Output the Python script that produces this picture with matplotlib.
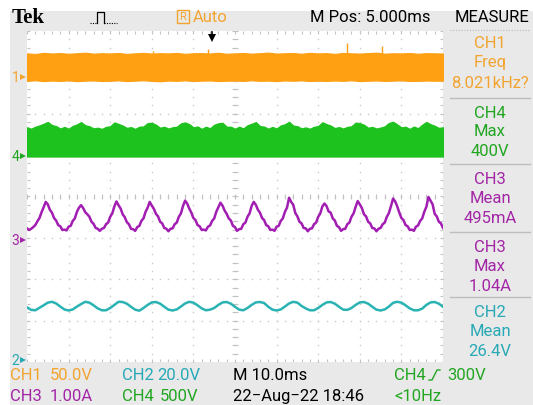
import numpy as np
import matplotlib
matplotlib.use("Agg")
import matplotlib.pyplot as plt
from matplotlib import font_manager as fm
from matplotlib.collections import LineCollection
from matplotlib.patches import Rectangle

# ---------------- acquisition data (time in ms, 0..100 across the screen) ----------------
# CH1: switching node, drawn as its envelope (50 V/div), 2 ms steps
ch1_high = [28.0, 27.2, 28.6, 27.8, 28.3, 27.5, 28.1, 28.8, 27.6, 28.2,
            27.9, 28.4, 27.3, 28.0, 28.6, 27.7, 28.2, 27.9, 28.5, 27.4,
            28.1, 28.3, 27.8, 28.7, 27.5, 28.0, 28.4, 27.6, 28.2, 28.9,
            27.7, 28.1, 28.3, 27.5, 28.6, 27.9, 28.2, 27.4, 28.5, 28.0,
            27.7, 28.3, 28.8, 27.6, 28.1, 27.9, 28.4, 27.5, 28.2, 28.0,
            27.8]
ch1_low = [-5.2, -4.6, -5.5, -4.9, -5.3, -4.7, -5.6, -5.0, -4.8, -5.4,
           -5.1, -4.7, -5.5, -5.0, -4.6, -5.3, -5.8, -4.9, -5.2, -4.7,
           -5.4, -5.0, -4.8, -5.5, -5.1, -4.9, -5.3, -4.6, -5.2, -5.0,
           -5.5, -4.8, -5.1, -4.7, -5.4, -5.0, -5.3, -4.9, -5.2, -4.6,
           -5.5, -5.1, -4.8, -5.3, -5.0, -4.7, -5.4, -5.2, -4.9, -5.1,
           -5.0]
ch1_spike_t = [30.3, 43.6, 76.9, 85.3]
ch1_spike_v = [31.0, 33.0, 41.0, 37.0]

# CH4: bus voltage envelope (500 V/div), 1 ms steps
ch4_top = [346, 328, 352, 368, 388, 410, 372, 360, 330, 350,
           328, 362, 380, 408, 370, 358, 332, 340, 326, 350,
           358, 404, 386, 366, 338, 348, 326, 352, 356, 396,
           400, 376, 340, 352, 330, 346, 352, 392, 404, 384,
           344, 356, 326, 352, 334, 376, 394, 400, 352, 352,
           328, 352, 332, 370, 388, 408, 360, 354, 328, 350,
           330, 368, 382, 412, 366, 358, 332, 344, 328, 352,
           360, 406, 384, 366, 336, 348, 330, 350, 358, 402,
           396, 376, 340, 350, 330, 342, 356, 398, 412, 380,
           344, 352, 326, 354, 334, 376, 410, 382, 364, 338,
           346]
ch4_floor = -6.0

# CH3: input current (1.00 A/div), 0.5 ms steps
ch3_amps = [0.28, 0.24, 0.27, 0.31, 0.36, 0.45, 0.53, 0.67, 0.79,
            0.92, 0.86, 0.73, 0.66, 0.53, 0.47, 0.36, 0.33, 0.24, 0.25, 0.23, 0.32, 0.34, 0.46, 0.52, 0.68, 0.78,
            0.84, 0.77, 0.67, 0.62, 0.56, 0.44, 0.39, 0.29, 0.27, 0.22, 0.27, 0.29, 0.38, 0.42, 0.56, 0.64, 0.81,
            0.93, 0.84, 0.76, 0.62, 0.55, 0.43, 0.38, 0.27, 0.26, 0.22, 0.31, 0.34, 0.46, 0.52, 0.68, 0.78,
            0.92, 0.83, 0.75, 0.63, 0.57, 0.44, 0.40, 0.29, 0.27, 0.21, 0.27, 0.28, 0.38, 0.42, 0.56, 0.64, 0.82,
            0.95, 0.88, 0.76, 0.66, 0.53, 0.48, 0.36, 0.33, 0.24, 0.25, 0.23, 0.32, 0.35, 0.46, 0.52, 0.68, 0.79,
            0.90, 0.83, 0.71, 0.63, 0.52, 0.47, 0.34, 0.31, 0.22, 0.26, 0.27, 0.38, 0.42, 0.56, 0.64, 0.82,
            0.92, 0.85, 0.73, 0.66, 0.53, 0.48, 0.36, 0.33, 0.24, 0.25, 0.22, 0.32, 0.34, 0.46, 0.52, 0.68, 0.78,
            1.02, 0.92, 0.85, 0.65, 0.57, 0.44, 0.40, 0.29, 0.28, 0.21, 0.27, 0.28, 0.38, 0.42, 0.56, 0.64, 0.81,
            0.88, 0.82, 0.69, 0.66, 0.52, 0.47, 0.34, 0.31, 0.22, 0.26, 0.27, 0.38, 0.42, 0.56, 0.64, 0.80,
            0.94, 0.86, 0.77, 0.62, 0.57, 0.44, 0.40, 0.29, 0.28, 0.21, 0.27, 0.29, 0.38, 0.42, 0.56, 0.65, 0.82,
            1.00, 0.93, 0.81, 0.66, 0.53, 0.48, 0.36, 0.33, 0.24, 0.25, 0.22, 0.32, 0.35, 0.46, 0.52, 0.68, 0.80,
            1.04, 0.95, 0.86, 0.63, 0.57, 0.44, 0.40, 0.29]

# CH2: output voltage (20.0 V/div), 1 ms steps
ch2_volts = [25.6, 24.4, 24.2, 25.4, 26.6, 27.9, 28.3, 27.5, 26.0, 24.6,
             24.1, 24.6, 26.0, 27.2, 28.3, 27.9, 26.6, 25.1, 24.2, 24.2,
             25.3, 26.8, 28.3, 28.2, 27.4, 25.9, 24.5, 24.0, 25.3, 26.8,
             28.0, 28.2, 27.4, 25.9, 24.5, 24.1, 24.6, 26.0, 27.5, 28.3,
             27.9, 26.6, 25.1, 24.2, 24.5, 25.3, 26.8, 28.0, 28.2, 27.4,
             25.9, 24.5, 24.2, 25.3, 26.8, 28.0, 28.2, 27.7, 25.9, 24.5,
             24.1, 24.6, 26.0, 27.5, 28.3, 27.9, 26.3, 25.1, 24.2, 24.2,
             25.3, 26.8, 28.0, 28.2, 27.4, 25.9, 24.5, 24.4, 25.3, 26.8,
             28.0, 28.2, 27.4, 25.9, 24.5, 24.1, 24.6, 26.0, 27.8, 28.3,
             27.9, 26.6, 25.1, 24.2, 24.2, 25.0, 26.8, 28.0, 28.2, 27.4,
             25.9]

# channel settings: volts (or amps) per division and ground level in divisions
ch_scale = {"CH1": 50.0, "CH2": 20.0, "CH3": 1.0, "CH4": 500.0}
ch_ground = {"CH1": 2.90, "CH2": -3.96, "CH3": -1.05, "CH4": 0.98}

# readouts
measure_items = [("CH1", "Freq", "8.021kHz?"), ("CH4", "Max", "400V"),
                 ("CH3", "Mean", "495mA"), ("CH3", "Max", "1.04A"),
                 ("CH2", "Mean", "26.4V")]

# ---------------- styling ----------------
W, H = 533, 406
BG = "#e9e9e9"
C_TR = {"CH1": "#ff9f12", "CH2": "#2bb3b3", "CH3": "#a21db2", "CH4": "#1ec21e"}
C_TX = {"CH1": "#f2a431", "CH2": "#27a9b6", "CH3": "#a226a6", "CH4": "#22a622"}


def pick_font(names):
    for n in names:
        try:
            fm.findfont(fm.FontProperties(family=n), fallback_to_default=False)
            return n
        except Exception:
            pass
    return "DejaVu Sans"


SANS = pick_font(["Liberation Sans Narrow", "Roboto", "Liberation Sans"])
SERIF = pick_font(["Liberation Serif", "DejaVu Serif"])
FS = 12

fig = plt.figure(figsize=(W / 100, H / 100), dpi=100)
fig.patch.set_facecolor("white")


def px_rect(x0, y0, x1, y1):
    return [x0 / W, 1 - y1 / H, (x1 - x0) / W, (y1 - y0) / H]


# background layer in pixel coordinates
bg = fig.add_axes([0, 0, 1, 1], zorder=0)
bg.set_xlim(0, W)
bg.set_ylim(H, 0)
bg.axis("off")
bg.add_patch(Rectangle((10, 12), W - 10, H - 12, color=BG, lw=0))

# graticule: 10 x 8 divisions
GX0, GY0, GX1, GY1 = 27, 32, 443, 363
grat = fig.add_axes(px_rect(GX0, GY0, GX1, GY1), zorder=1)
grat.set_xlim(0, 100)
grat.set_ylim(-4, 4)
grat.set_facecolor("white")
for s in grat.spines.values():
    s.set_visible(False)
grat.set_xticks([])
grat.set_yticks([])

dot_c = "#c9c9c9"
tick_c = "#c2c2c2"
ys_fine = np.arange(-4, 4.01, 0.2)
xs_fine = np.arange(0, 100.01, 2.0)
for gx in range(10, 100, 10):
    grat.plot(np.full_like(ys_fine, gx), ys_fine, ls="none", marker="s",
              ms=1.0, mew=0, color=dot_c)
for gy in range(-3, 4):
    grat.plot(xs_fine, np.full_like(xs_fine, gy), ls="none", marker="s",
              ms=1.0, mew=0, color=dot_c)
segs = []
for x in xs_fine:
    segs.append([(x, -0.07), (x, 0.07)])      # horizontal centre line
    segs.append([(x, 4), (x, 3.93)])          # top edge
    segs.append([(x, -4), (x, -3.93)])        # bottom edge
for y in ys_fine:
    segs.append([(49.3, y), (50.7, y)])       # vertical centre line
    segs.append([(0, y), (0.8, y)])           # left edge
    segs.append([(100, y), (99.2, y)])        # right edge
grat.add_collection(LineCollection(segs, colors=tick_c, linewidths=0.8))


def channel_axes(name):
    a = fig.add_axes(px_rect(GX0, GY0, GX1, GY1), zorder=2)
    g, sc = ch_ground[name], ch_scale[name]
    a.set_xlim(0, 100)
    a.set_ylim((-4 - g) * sc, (4 - g) * sc)
    a.axis("off")
    a.patch.set_visible(False)
    return a


def ground_marker(a, name, digit):
    a.text(-1.8, 0, digit, color=C_TX[name], fontsize=10, family=SANS,
           ha="right", va="center", clip_on=False)
    a.plot([-1.0], [0], marker=">", ms=4, mew=0, color=C_TX[name], clip_on=False)


# CH1
a1 = channel_axes("CH1")
t1 = np.linspace(0, 100, len(ch1_high))
a1.fill_between(t1, ch1_low, ch1_high, color=C_TR["CH1"], lw=0.8, ec=C_TR["CH1"])
a1.vlines(ch1_spike_t, [h - 1 for h in np.interp(ch1_spike_t, t1, ch1_high)],
          ch1_spike_v, color=C_TR["CH1"], lw=1.0)
ground_marker(a1, "CH1", "1")

# CH4
a4 = channel_axes("CH4")
t4 = np.linspace(0, 100, len(ch4_top))
a4.fill_between(t4, ch4_floor, ch4_top, color=C_TR["CH4"], lw=1.0, ec=C_TR["CH4"])
ground_marker(a4, "CH4", "4")

# CH3
a3 = channel_axes("CH3")
t3 = np.linspace(0, 100, len(ch3_amps))
a3.plot(t3, ch3_amps, color=C_TR["CH3"], lw=1.8)
ground_marker(a3, "CH3", "3")

# CH2
a2 = channel_axes("CH2")
t2 = np.linspace(0, 100, len(ch2_volts))
a2.plot(t2, ch2_volts, color=C_TR["CH2"], lw=1.8)
ground_marker(a2, "CH2", "2")

# foreground layer in pixel coordinates for the status text
fg = fig.add_axes([0, 0, 1, 1], zorder=5)
fg.set_xlim(0, W)
fg.set_ylim(H, 0)
fg.axis("off")
fg.patch.set_visible(False)


def txt(x, y, s, color="black", ha="left", size=FS, **kw):
    fg.text(x, y, s, color=color, ha=ha, va="center", fontsize=size,
            family=kw.pop("family", SANS), **kw)


# top status line
txt(12, 18, "Tek", family=SERIF, weight="bold", size=15)
fg.plot([90, 97], [24, 24], ls=(0, (1, 1.2)), color="black", lw=0.8)
fg.plot([97, 97, 104, 104], [24, 13, 13, 24], color="black", lw=0.9)
fg.plot([104, 117], [24, 24], ls=(0, (1, 1.2)), color="black", lw=0.8)
fg.add_patch(Rectangle((177, 11), 12, 13, fill=False, ec=C_TX["CH1"], lw=1.0))
txt(183, 17.5, "R", color=C_TX["CH1"], ha="center", size=8)
txt(193, 18, "Auto", color=C_TX["CH1"])
txt(310, 18, "M Pos: 5.000ms")
txt(492, 18, "MEASURE", ha="center")

# trigger position arrow
fg.plot([212, 212], [33, 38], color="black", lw=1.2)
fg.plot([212], [39], marker="v", ms=6, mew=0, color="black")

# measurement panel
fg.plot([450, 530], [31, 31], ls=(0, (1, 1.5)), color="#b8b8b8", lw=0.8)
row_y = [44, 113, 180, 248, 313]
for (ch, kind, val), y0 in zip(measure_items, row_y):
    txt(490, y0, ch, color=C_TX[ch], ha="center")
    txt(490, y0 + 19, kind, color=C_TX[ch], ha="center")
    txt(490, y0 + 39, val, color=C_TX[ch], ha="center")
for y0 in [99, 165, 233, 298]:
    fg.plot([450, 530], [y0, y0], color="#bdbdbd", lw=1.0)

# bottom settings lines
txt(10, 376, "CH1", color=C_TX["CH1"])
txt(50, 376, "50.0V", color=C_TX["CH1"])
txt(122, 376, "CH2", color=C_TX["CH2"])
txt(157, 376, "20.0V", color=C_TX["CH2"])
txt(233, 376, "M 10.0ms")
txt(394, 376, "CH4", color=C_TX["CH4"])
fg.plot([429, 432, 437, 440], [381, 381, 371, 371], color=C_TX["CH4"], lw=1.0)
txt(447, 376, "300V", color=C_TX["CH4"])
txt(10, 397, "CH3", color=C_TX["CH3"])
txt(50, 397, "1.00A", color=C_TX["CH3"])
txt(122, 397, "CH4", color=C_TX["CH4"])
txt(160, 397, "500V", color=C_TX["CH4"])
txt(233, 397, "22\u2212Aug\u221222 18:46")
txt(394, 397, "<10Hz", color=C_TX["CH4"])

fig.savefig("out.png", dpi=100, facecolor=fig.get_facecolor())
